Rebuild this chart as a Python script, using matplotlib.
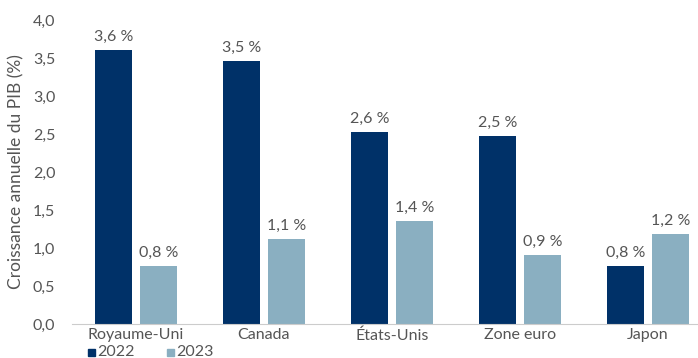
import matplotlib
matplotlib.use("Agg")
import matplotlib.pyplot as plt
import numpy as np
from matplotlib.patches import Rectangle

categories = ["Royaume-Uni", "Canada", "États-Unis", "Zone euro", "Japon"]
values_2022 = [3.60, 3.46, 2.53, 2.48, 0.76]
values_2023 = [0.76, 1.12, 1.36, 0.91, 1.18]
labels_2022 = ["3,6 %", "3,5 %", "2,6 %", "2,5 %", "0,8 %"]
labels_2023 = ["0,8 %", "1,1 %", "1,4 %", "0,9 %", "1,2 %"]
yticks = [0.0, 0.5, 1.0, 1.5, 2.0, 2.5, 3.0, 3.5, 4.0]
ytick_labels = ["0,0", "0,5", "1,0", "1,5", "2,0", "2,5", "3,0", "3,5", "4,0"]
series_names = ["2022", "2023"]

c22 = "#003168"
c23 = "#8AAFC1"
tc = "#555555"

plt.rcParams['font.family'] = ['Lato', 'DejaVu Sans']

W, H = 698, 358
fig = plt.figure(figsize=(W/100, H/100), dpi=100)
ax = fig.add_axes([72/W, (H-324)/H, 640/W, 304/H])

x = np.arange(len(categories))
bw = 0.29
off = 0.176
fs = 11.5
ax.bar(x - off, values_2022, bw, color=c22)
ax.bar(x + off, values_2023, bw, color=c23)
for xi, v, l in zip(x - off, values_2022, labels_2022):
    ax.text(xi, v + 0.08, l, ha='center', va='bottom', fontsize=fs, color=tc)
for xi, v, l in zip(x + off, values_2023, labels_2023):
    ax.text(xi, v + 0.08, l, ha='center', va='bottom', fontsize=fs, color=tc)

ax.set_xlim(-0.5, 4.5)
ax.set_ylim(0, 4.0)
ax.set_yticks(yticks)
ax.set_yticklabels(ytick_labels, fontsize=fs, color=tc)
ax.set_xticks(x)
ax.set_xticklabels(categories, fontsize=fs, color=tc)
ax.tick_params(axis='both', length=0)
ax.tick_params(axis='y', pad=12)
ax.tick_params(axis='x', pad=3)
for s in ['top', 'right', 'left']:
    ax.spines[s].set_visible(False)
ax.spines['bottom'].set_color('#cccccc')
ax.set_ylabel("Croissance annuelle du PIB (%)", fontsize=12.5, color=tc, labelpad=6)

# legend
for xs, name, col in [(88, series_names[0], c22), (167, series_names[1], c23)]:
    fig.patches.append(Rectangle((xs/W, (H-356)/H), 7/W, 7/H, transform=fig.transFigure, color=col))
    fig.text((xs+9)/W, (H-352)/H, name, fontsize=fs, color=tc, va='center', ha='left')

fig.savefig("out.png", dpi=100)
